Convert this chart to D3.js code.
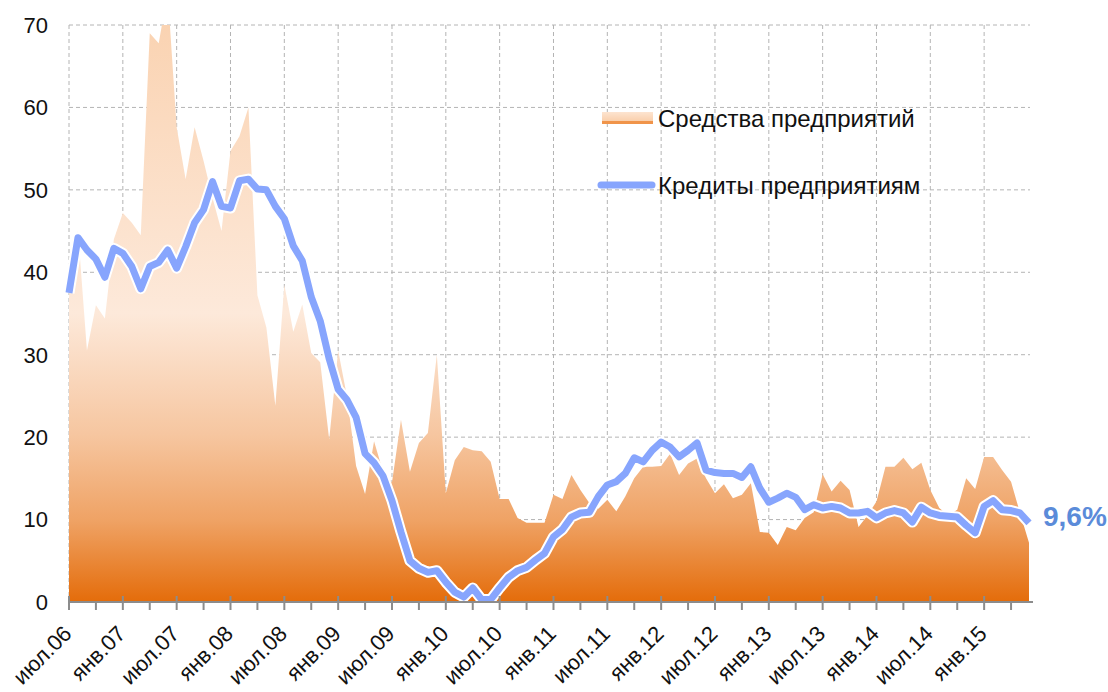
<!DOCTYPE html>
<html>
  <head>
    <meta charset="utf-8">
    <style>
      body { margin: 0; background: #fff; }
      text { font-family: Arial, "Liberation Sans", sans-serif; fill: #111; }
    </style>
  </head>
  <body>
    <script src="https://cdn.jsdelivr.net/npm/d3@7"></script>
    <script>
      // тики по оси X (каждые 6 месяцев, начиная с июл.06)
      var tickLabels = ["июл.06", "янв.07", "июл.07", "янв.08", "июл.08", "янв.09",
                        "июл.09", "янв.10", "июл.10", "янв.11", "июл.11", "янв.12",
                        "июл.12", "янв.13", "июл.13", "янв.14", "июл.14", "янв.15"];
      var yTicks = [0, 10, 20, 30, 40, 50, 60, 70];

      // Средства предприятий, % г/г, помесячно с июл.06
      var funds = [37, 45, 30.5, 36, 34.4, 44, 47.2, 46, 44.5, 69,
                   67.8, 74, 57.6, 51.3, 57.6, 53.5, 49, 45, 54.7, 56.5,
                   60, 37.2, 33.3, 23.8, 38.5, 32.8, 36.1, 30.2, 29.1, 19.7,
                   30.5, 24.8, 16.5, 13.1, 19.5, 15.8, 14.5, 22.1, 15.8, 19.3,
                   20.5, 30, 13.2, 17.2, 18.8, 18.4, 18.3, 17, 12.5, 12.5,
                   10.2, 9.6, 9.6, 9.6, 13, 12.5, 15.4, 13.6, 12, 11.3,
                   12.4, 11, 12.8, 15, 16.4, 16.4, 16.5, 18, 15.4, 16.8,
                   17.4, 15, 13.2, 14.3, 12.6, 13, 14.4, 8.5, 8.4, 6.9,
                   9.1, 8.7, 10.2, 10.9, 15.5, 13.4, 14.7, 13.6, 9.1, 10.5,
                   12.2, 16.4, 16.4, 17.5, 16.1, 16.9, 13.6, 11.4, 10.5, 11.2,
                   15, 13.7, 17.6, 17.6, 16, 14.6, 10.8, 7.2];

      // Кредиты предприятиям, % г/г
      var loans = [37.5, 44.2, 42.7, 41.6, 39.4, 42.9, 42.3, 40.7, 38.0, 40.7,
                   41.2, 42.7, 40.5, 43.1, 46.0, 47.6, 51.0, 48.0, 47.8, 51.1,
                   51.3, 50.1, 50.0, 48.0, 46.5, 43.2, 41.4, 37.0, 34.1, 29.5,
                   25.8, 24.5, 22.4, 18.0, 16.9, 15.3, 12.3, 8.5, 5.0, 4.1,
                   3.6, 3.8, 2.4, 1.2, 0.6, 1.7, 0.3, 0.3, 1.7, 3.0,
                   3.8, 4.2, 5.1, 5.9, 7.9, 8.8, 10.3, 10.8, 10.9, 12.8,
                   14.2, 14.6, 15.6, 17.5, 17.0, 18.4, 19.4, 18.8, 17.6, 18.4,
                   19.3, 16.0, 15.7, 15.6, 15.6, 15.1, 16.4, 13.8, 12.1, 12.6,
                   13.2, 12.7, 11.2, 11.8, 11.4, 11.6, 11.4, 10.8, 10.8, 11.0,
                   10.2, 10.8, 11.1, 10.8, 9.7, 11.5, 10.8, 10.5, 10.4, 10.3,
                   9.3, 8.4, 11.6, 12.3, 11.2, 11.1, 10.8, 9.6];

      var seriesNames = ["Средства предприятий", "Кредиты предприятиям"];
      var lastLabel = "9,6%";

      var width = 1108, height = 692;
      var margin = { top: 25, right: 79, bottom: 90, left: 69 };

      var svg = d3.select("body")
          .append("svg")
          .attr("width", width)
          .attr("height", height);

      var x = d3.scaleLinear()
          .domain([0, funds.length - 1])
          .range([margin.left, width - margin.right]);

      var y = d3.scaleLinear()
          .domain([0, 70])
          .range([height - margin.bottom, margin.top]);

      var defs = svg.append("defs");

      var grad = defs.append("linearGradient")
          .attr("id", "fundsGrad")
          .attr("gradientUnits", "userSpaceOnUse")
          .attr("x1", 0).attr("x2", 0)
          .attr("y1", y(70)).attr("y2", y(0));
      [[0, "#fad3b2"], [0.5, "#fde9da"], [0.71, "#f6c6a0"], [0.86, "#efa264"], [1, "#e46c0a"]]
        .forEach(function (s) {
          grad.append("stop").attr("offset", s[0]).attr("stop-color", s[1]);
        });

      var legGrad = defs.append("linearGradient")
          .attr("id", "legGrad")
          .attr("x1", 0).attr("x2", 0).attr("y1", 0).attr("y2", 1);
      legGrad.append("stop").attr("offset", 0).attr("stop-color", "#fde4d0");
      legGrad.append("stop").attr("offset", 1).attr("stop-color", "#f9cda8");

      defs.append("clipPath").attr("id", "plotClip")
        .append("rect")
          .attr("x", x(0)).attr("y", y(70))
          .attr("width", x(funds.length - 1) - x(0))
          .attr("height", y(0) - y(70));

      // сетка
      var grid = svg.append("g").attr("class", "grid");
      grid.selectAll("line.h")
        .data(yTicks.slice(1))
        .enter().append("line")
          .attr("class", "h")
          .attr("x1", x(0)).attr("x2", x(funds.length - 1) + 1)
          .attr("y1", function (d) { return y(d); })
          .attr("y2", function (d) { return y(d); });
      grid.selectAll("line.v")
        .data(tickLabels)
        .enter().append("line")
          .attr("class", "v")
          .attr("x1", function (d, i) { return x(i * 6); })
          .attr("x2", function (d, i) { return x(i * 6); })
          .attr("y1", y(70)).attr("y2", y(0));
      grid.selectAll("line")
          .attr("stroke", "#b4b4b4")
          .attr("stroke-width", 1)
          .attr("stroke-dasharray", "4,3");

      // область — средства предприятий
      var area = d3.area()
          .x(function (d, i) { return x(i); })
          .y0(y(0))
          .y1(function (d) { return y(d); });

      svg.append("path")
          .datum(funds)
          .attr("clip-path", "url(#plotClip)")
          .attr("fill", "url(#fundsGrad)")
          .attr("d", area);

      // линия — кредиты предприятиям
      var line = d3.line()
          .x(function (d, i) { return x(i); })
          .y(function (d) { return y(d); });

      svg.append("path")
          .datum(loans)
          .attr("fill", "none")
          .attr("stroke", "#ffffff")
          .attr("stroke-width", 11)
          .attr("stroke-linejoin", "round")
          .attr("d", line);
      svg.append("path")
          .datum(loans)
          .attr("fill", "none")
          .attr("stroke", "#87a5fd")
          .attr("stroke-width", 7)
          .attr("stroke-linejoin", "round")
          .attr("d", line);

      // ось X
      var axis = svg.append("g");
      axis.append("line")
          .attr("x1", x(0)).attr("x2", x(funds.length - 1) + 4)
          .attr("y1", y(0)).attr("y2", y(0))
          .attr("stroke", "#8c8c8c").attr("stroke-width", 2);
      axis.selectAll("line.minor")
        .data(d3.range(3, funds.length, 6))
        .enter().append("line")
          .attr("class", "minor")
          .attr("x1", function (d) { return x(d); })
          .attr("x2", function (d) { return x(d); })
          .attr("y1", y(0)).attr("y2", y(0) + 8)
          .attr("stroke", "#8c8c8c").attr("stroke-width", 2);
      axis.selectAll("line.major")
        .data(tickLabels)
        .enter().append("line")
          .attr("class", "major")
          .attr("x1", function (d, i) { return x(i * 6); })
          .attr("x2", function (d, i) { return x(i * 6); })
          .attr("y1", y(0) - 6).attr("y2", y(0) + 8)
          .attr("stroke", "#8c8c8c").attr("stroke-width", 2);

      axis.selectAll("text")
        .data(tickLabels)
        .enter().append("text")
          .attr("transform", function (d, i) {
            return "translate(" + (x(i * 6) + 4) + "," + (y(0) + 33) + ") rotate(-45)";
          })
          .attr("text-anchor", "end")
          .style("font-size", "22px")
          .text(function (d) { return d; });

      // ось Y
      svg.append("g").selectAll("text")
        .data(yTicks)
        .enter().append("text")
          .attr("x", 48)
          .attr("y", function (d) { return y(d); })
          .attr("dy", "0.36em")
          .attr("text-anchor", "end")
          .style("font-size", "22px")
          .text(function (d) { return d; });

      // легенда
      var legend = svg.append("g");
      legend.append("rect")
          .attr("x", 602).attr("y", 112)
          .attr("width", 51).attr("height", 10)
          .attr("fill", "url(#legGrad)");
      legend.append("rect")
          .attr("x", 602).attr("y", 121)
          .attr("width", 51).attr("height", 3)
          .attr("fill", "#f0944a");
      legend.append("text")
          .attr("x", 658).attr("y", 118)
          .attr("dy", "0.36em")
          .style("font-size", "24px")
          .text(seriesNames[0]);
      legend.append("line")
          .attr("x1", 601).attr("x2", 652)
          .attr("y1", 185).attr("y2", 185)
          .attr("stroke", "#87a5fd")
          .attr("stroke-width", 7)
          .attr("stroke-linecap", "round");
      legend.append("text")
          .attr("x", 658).attr("y", 185)
          .attr("dy", "0.36em")
          .style("font-size", "24px")
          .text(seriesNames[1]);

      // подпись последнего значения
      svg.append("text")
          .attr("x", x(loans.length - 1) + 14)
          .attr("y", y(loans[loans.length - 1]))
          .attr("dy", "0.12em")
          .style("font-size", "28px")
          .style("font-weight", "bold")
          .style("fill", "#5b8bd9")
          .text(lastLabel);
    </script>
  </body>
</html>
